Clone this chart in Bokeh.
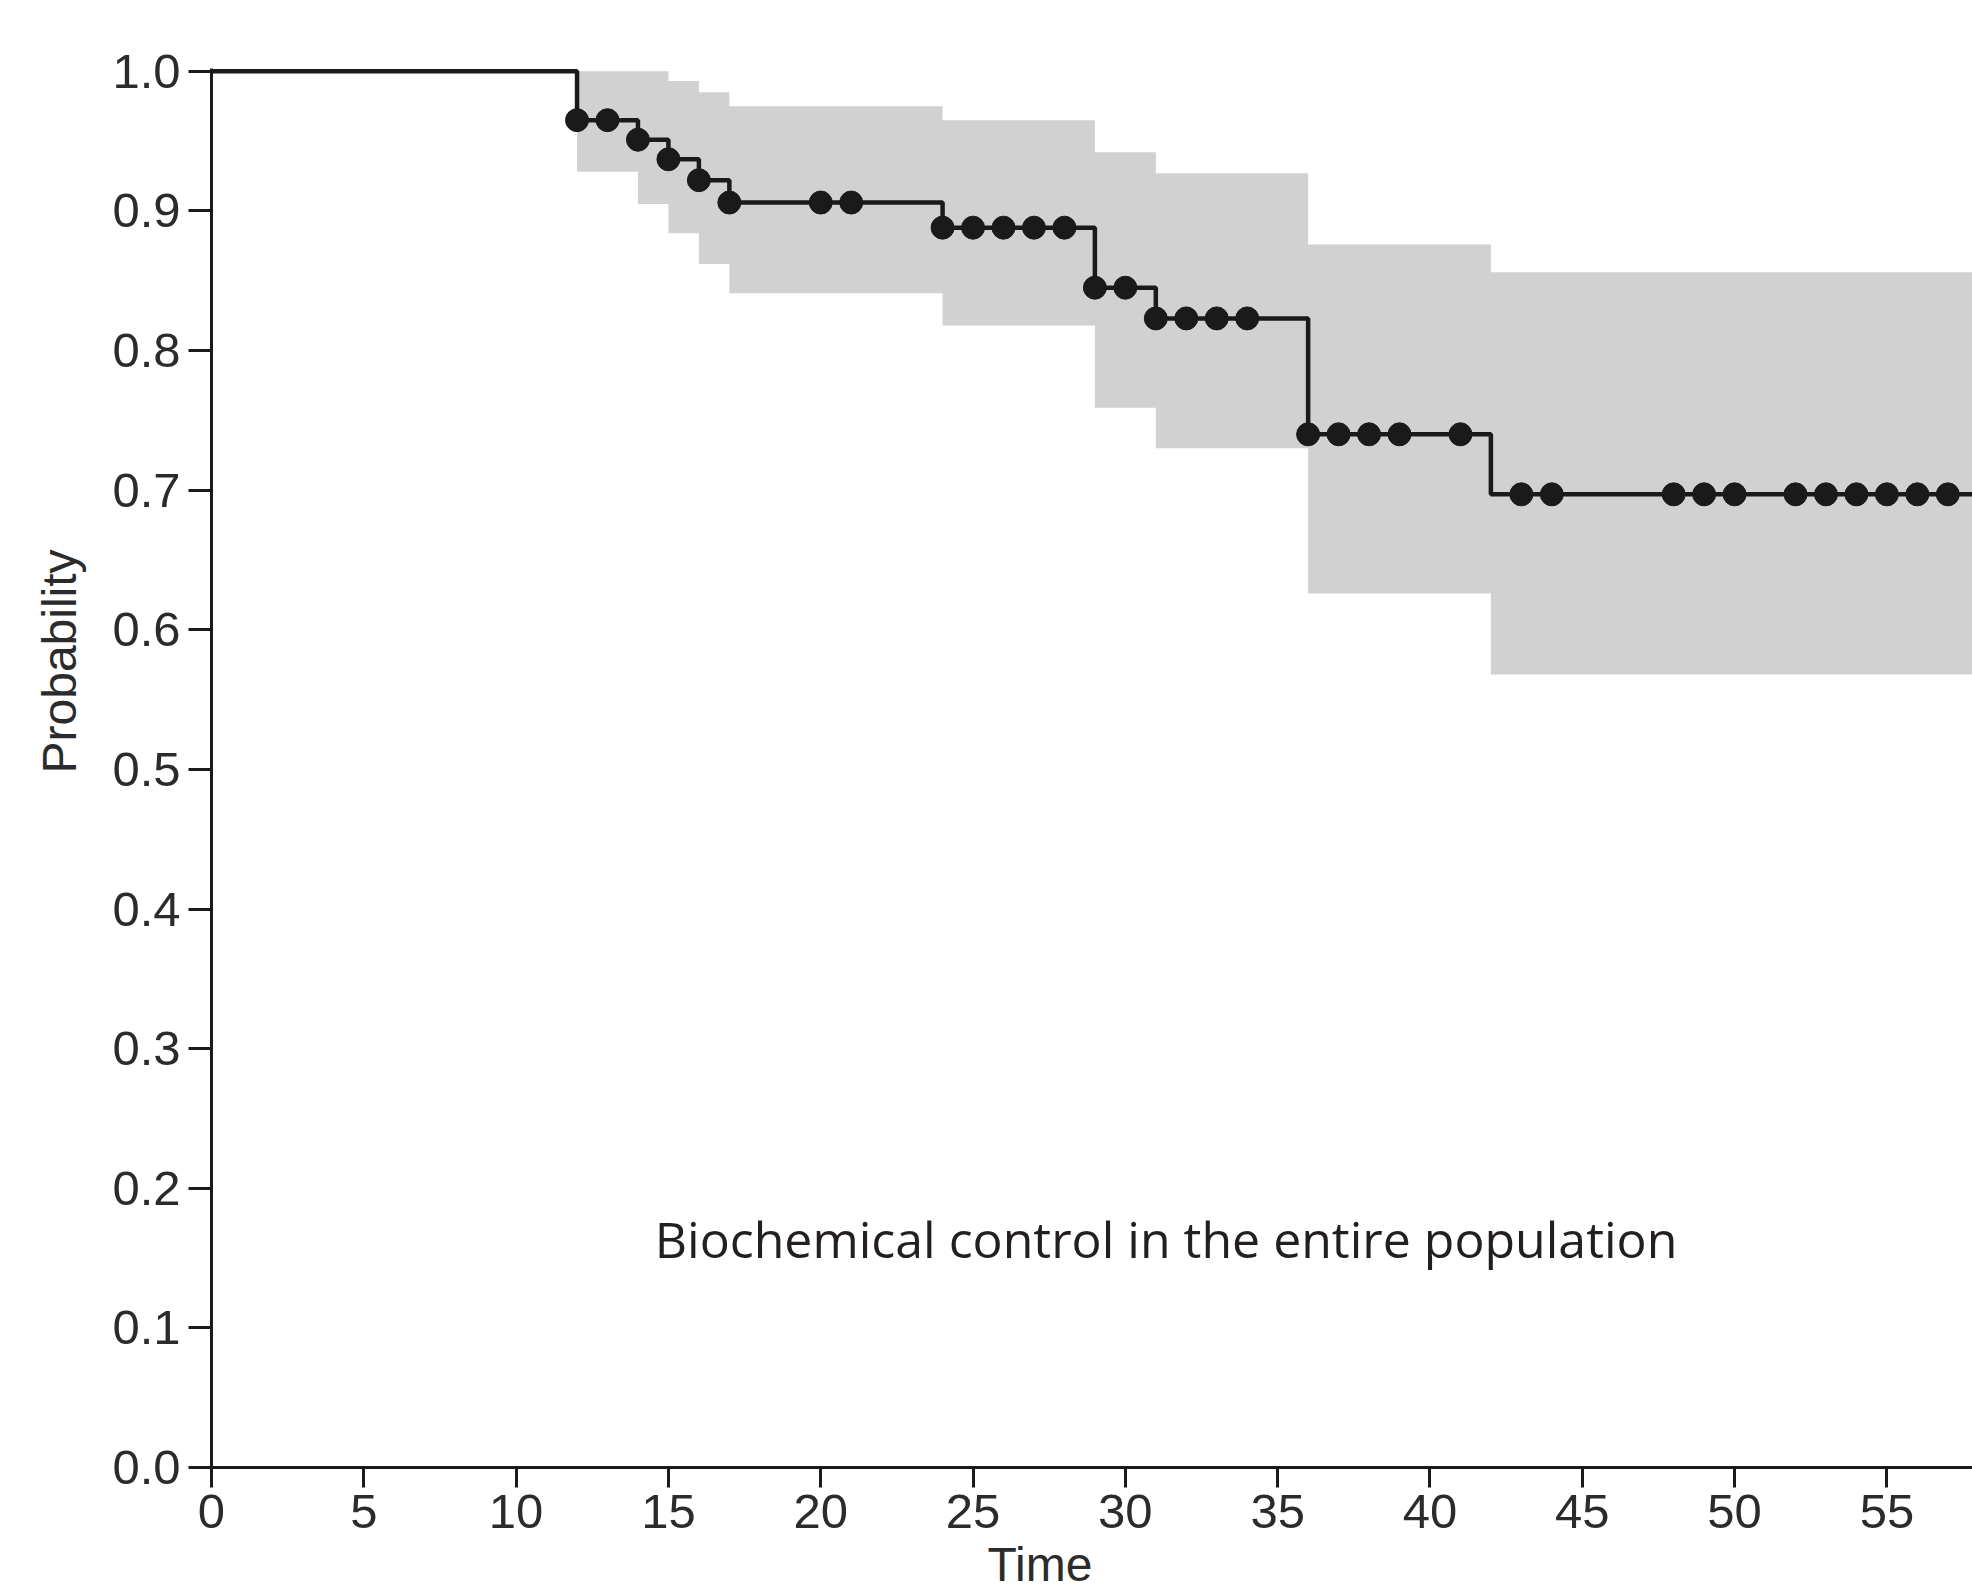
from bokeh.plotting import figure
from bokeh.models import Range1d, Label, FixedTicker, Title
from bokeh.embed import file_html
from bokeh.resources import INLINE

# Kaplan-Meier estimate (step after each time)
km_time = [0, 12, 14, 15, 16, 17, 24, 29, 31, 36, 42, 58]
km_surv = [1.0, 0.965, 0.951, 0.937, 0.922, 0.906, 0.888, 0.845, 0.823, 0.740, 0.697, 0.697]

# Confidence band (step after each time)
ci_time = [0, 12, 14, 15, 16, 17, 24, 29, 31, 36, 42, 58]
ci_upper = [1.0, 1.0, 1.0, 0.993, 0.985, 0.975, 0.965, 0.942, 0.927, 0.876, 0.856, 0.856]
ci_lower = [1.0, 0.928, 0.905, 0.884, 0.862, 0.841, 0.818, 0.759, 0.730, 0.626, 0.568, 0.568]

# Censoring marks
censor_time = [12, 13, 14, 15, 16, 17, 20, 21, 24, 25, 26, 27, 28, 29, 30, 31, 32, 33, 34,
               36, 37, 38, 39, 41, 43, 44, 48, 49, 50, 52, 53, 54, 55, 56, 57]

x_ticks = [0, 5, 10, 15, 20, 25, 30, 35, 40, 45, 50, 55]
y_ticks = [0.0, 0.1, 0.2, 0.3, 0.4, 0.5, 0.6, 0.7, 0.8, 0.9, 1.0]
y_tick_labels = {v: f"{v:.1f}" for v in y_ticks}


def surv_at(t):
    s = km_surv[0]
    for tt, ss in zip(km_time, km_surv):
        if tt <= t:
            s = ss
    return s


censor_surv = [surv_at(t) for t in censor_time]

W, H = 1972, 1595
p = figure(width=W, height=H, output_backend="svg", toolbar_location=None,
           x_range=Range1d(0, 57.81), y_range=Range1d(0, 1.002),
           min_border_left=211, min_border_right=0, min_border_top=68,
           min_border_bottom=128)
p.background_fill_color = "white"
p.border_fill_color = "white"
p.outline_line_color = None
p.grid.grid_line_color = None

band_color = "#d1d1d1"
ink = "#1a1a1a"
txt = "#2b2b2b"

p.varea_step(x=ci_time, y1=ci_lower, y2=ci_upper, step_mode="after",
             fill_color=band_color, fill_alpha=1.0)
p.step(x=km_time, y=km_surv, mode="after", line_color=ink, line_width=4.5)
p.scatter(x=censor_time, y=censor_surv, size=23, marker="circle",
          fill_color=ink, line_color=ink)

tick_font = "Liberation Sans"
for ax in (p.xaxis[0], p.yaxis[0]):
    ax.axis_line_color = ink
    ax.axis_line_width = 3
    ax.major_tick_line_color = ink
    ax.major_tick_line_width = 3
    ax.major_tick_in = 0
    ax.minor_tick_line_color = None
    ax.major_label_text_font = tick_font
    ax.major_label_text_font_size = "49px"
    ax.major_label_text_color = txt

p.xaxis[0].ticker = FixedTicker(ticks=x_ticks)
p.xaxis[0].major_tick_out = 20
p.xaxis[0].major_label_standoff = 7
p.yaxis[0].ticker = FixedTicker(ticks=y_ticks)
p.yaxis[0].major_label_overrides = y_tick_labels
p.yaxis[0].major_tick_out = 23
p.yaxis[0].major_label_standoff = 8

# axis titles
p.add_layout(Title(text="Probability", align="left", offset=694, standoff=48,
                   text_font=tick_font, text_font_size="48px",
                   text_font_style="normal", text_color=txt), "left")
p.add_layout(Title(text="Time", align="left", offset=776, standoff=10,
                   text_font=tick_font, text_font_size="48px",
                   text_font_style="normal", text_color=txt), "below")

# in-plot caption
p.add_layout(Label(x=14.55, y=0.164, text="Biochemical control in the entire population",
                   text_font="Open Sans", text_font_size="50px", text_color="#231f20",
                   text_align="left", text_baseline="alphabetic"))

open("out.html", "w").write(file_html(p, INLINE))
